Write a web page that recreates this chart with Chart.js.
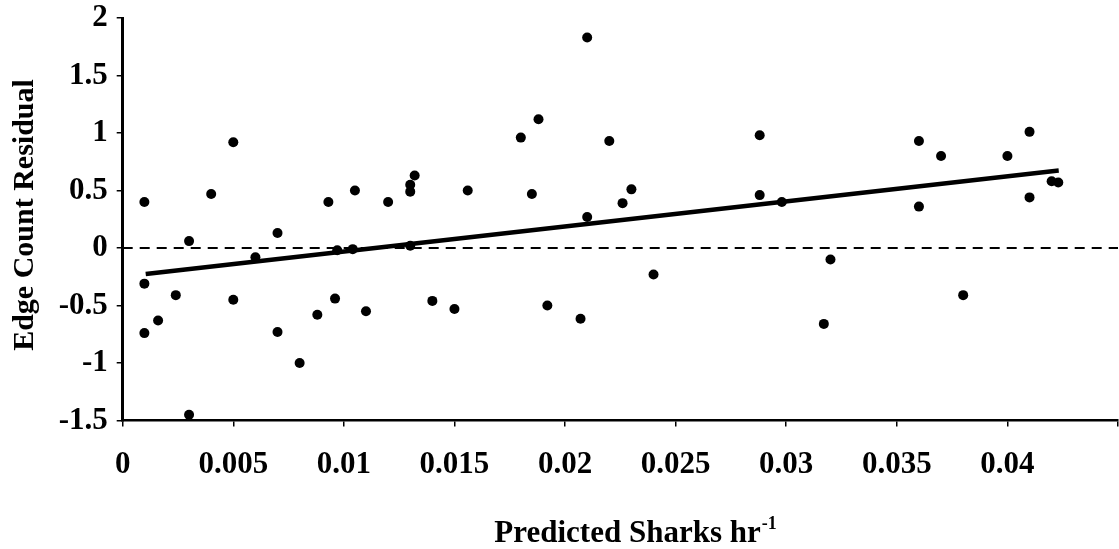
<!DOCTYPE html>
<html>
<head>
<meta charset="utf-8">
<title>Edge Count Residual</title>
<script src="https://cdn.jsdelivr.net/npm/chart.js@4/dist/chart.umd.min.js"></script>
<style>
    html, body { margin: 0; padding: 0; background: #fff; }
    #wrap { width: 1119px; height: 549px; position: relative; }
</style>
</head>
<body>
<div id="wrap"><canvas id="residuals"></canvas></div>
<script>
// Residuals against predicted shark rate
const predictedRate = [
    0.00098, 0.00098, 0.00098, 0.0016, 0.0024, 0.0030, 0.0030, 0.0040, 0.0050, 0.0050,
    0.0060, 0.0070, 0.0070, 0.0080, 0.0088, 0.0093, 0.0096, 0.0097, 0.0105, 0.0104,
    0.0110, 0.0120, 0.0130, 0.0130, 0.0132, 0.0130, 0.0140, 0.0150, 0.0156, 0.0180,
    0.0185, 0.0188, 0.0192, 0.0207, 0.0210, 0.0210, 0.0220, 0.0226, 0.0230, 0.0240,
    0.0288, 0.0288, 0.0298, 0.0317, 0.0320, 0.0360, 0.0360, 0.0370, 0.0380, 0.0400,
    0.0410, 0.0410, 0.0420, 0.0423
];
const residual = [
    0.40, -0.31, -0.74, -0.63, -0.41, 0.06, -1.45, 0.47, 0.92, -0.45,
    -0.08, 0.13, -0.73, -1.00, -0.58, 0.40, -0.44, -0.02, 0.50, -0.01,
    -0.55, 0.40, 0.55, 0.49, 0.63, 0.02, -0.46, -0.53, 0.50, 0.96,
    0.47, 1.12, -0.50, -0.615, 1.83, 0.27, 0.93, 0.39, 0.51, -0.23,
    0.98, 0.46, 0.40, -0.66, -0.10, 0.93, 0.36, 0.80, -0.41, 0.80,
    1.01, 0.44, 0.58, 0.57
];

// fitted trend, end points
const trendX = [0.00104, 0.04232];
const trendY = [-0.226, 0.673];

// zero reference
const zeroX = [0, 0.045];
const zeroY = [0, 0];

const xTickLabels = ['0', '0.005', '0.01', '0.015', '0.02', '0.025', '0.03', '0.035', '0.04', ''];
const yTickLabels = ['-1.5', '-1', '-0.5', '0', '0.5', '1', '1.5', '2'];

const pairs = (xs, ys) => xs.map((x, i) => ({ x: x, y: ys[i] }));

const serif = '"Liberation Serif", "Times New Roman", serif';

// axis titles drawn by hand so the x title can carry a superscript
const axisTitles = {
    id: 'axisTitles',
    afterDraw(chart) {
        const ctx = chart.ctx;
        ctx.save();
        ctx.fillStyle = '#000';

        // x title: "Predicted Sharks hr" + superscript -1
        const main = 'Predicted Sharks hr';
        const sup = '-1';
        ctx.font = 'bold 31px ' + serif;
        const wMain = ctx.measureText(main).width;
        ctx.font = 'bold 18px ' + serif;
        const wSup = ctx.measureText(sup).width;
        const left = 635 - (wMain + wSup) / 2;
        ctx.textBaseline = 'alphabetic';
        ctx.textAlign = 'left';
        ctx.font = 'bold 31px ' + serif;
        ctx.fillText(main, left, 542);
        ctx.font = 'bold 18px ' + serif;
        ctx.fillText(sup, left + wMain + 1, 529);

        // y title, rotated
        ctx.translate(25, 215);
        ctx.rotate(-Math.PI / 2);
        ctx.font = 'bold 30px ' + serif;
        ctx.textAlign = 'center';
        ctx.textBaseline = 'middle';
        ctx.fillText('Edge Count Residual', 0, 0);
        ctx.restore();
    }
};

const ctx = document.getElementById('residuals').getContext('2d');
const residualChart = new Chart(ctx, {
    type: 'scatter',
    data: {
        datasets: [{
            label: 'Trend',
            data: pairs(trendX, trendY),
            showLine: true,
            borderColor: '#000',
            borderWidth: 4.5,
            pointRadius: 0,
            order: 0
        }, {
            label: 'Zero',
            data: pairs(zeroX, zeroY),
            showLine: true,
            borderColor: '#000',
            borderWidth: 2,
            borderDash: [10, 7],
            pointRadius: 0,
            order: 1
        }, {
            label: 'Residual',
            data: pairs(predictedRate, residual),
            backgroundColor: '#000',
            borderWidth: 0,
            pointRadius: 5,
            order: 2
        }]
    },
    options: {
        responsive: true,
        maintainAspectRatio: false,
        animation: false,
        layout: {
            autoPadding: false,
            padding: { top: 18, right: 1, left: 0, bottom: 0 }
        },
        plugins: {
            legend: { display: false },
            tooltip: { enabled: false }
        },
        scales: {
            x: {
                type: 'linear',
                min: 0,
                max: 0.045,
                afterFit: function(scale) {
                    scale.height = 128.5;
                    scale.paddingLeft = 0;
                    scale.paddingRight = 0;
                },
                afterBuildTicks: function(scale) {
                    scale.ticks = xTickLabels.map((t, i) => ({ value: i * 0.005 }));
                },
                ticks: {
                    color: '#000',
                    padding: 20,
                    maxRotation: 0,
                    autoSkip: false,
                    font: { family: serif, size: 31, weight: 'bold' },
                    callback: function(value, index) { return xTickLabels[index]; }
                },
                grid: {
                    drawOnChartArea: false,
                    tickLength: 6,
                    tickColor: '#000',
                    lineWidth: 1.5
                },
                border: { display: true, color: '#000', width: 2.5 }
            },
            y: {
                type: 'linear',
                min: -1.5,
                max: 2,
                afterFit: function(scale) {
                    scale.width = 122.7;
                    scale.paddingTop = 0;
                    scale.paddingBottom = 0;
                },
                afterBuildTicks: function(scale) {
                    scale.ticks = yTickLabels.map((t, i) => ({ value: -1.5 + i * 0.5 }));
                },
                ticks: {
                    color: '#000',
                    padding: 9,
                    autoSkip: false,
                    font: { family: serif, size: 31, weight: 'bold' },
                    callback: function(value, index) { return yTickLabels[index]; }
                },
                grid: {
                    drawOnChartArea: false,
                    tickLength: 6,
                    tickColor: '#000',
                    lineWidth: 1.5
                },
                border: { display: true, color: '#000', width: 3 }
            }
        }
    },
    plugins: [axisTitles]
});
</script>
</body>
</html>
